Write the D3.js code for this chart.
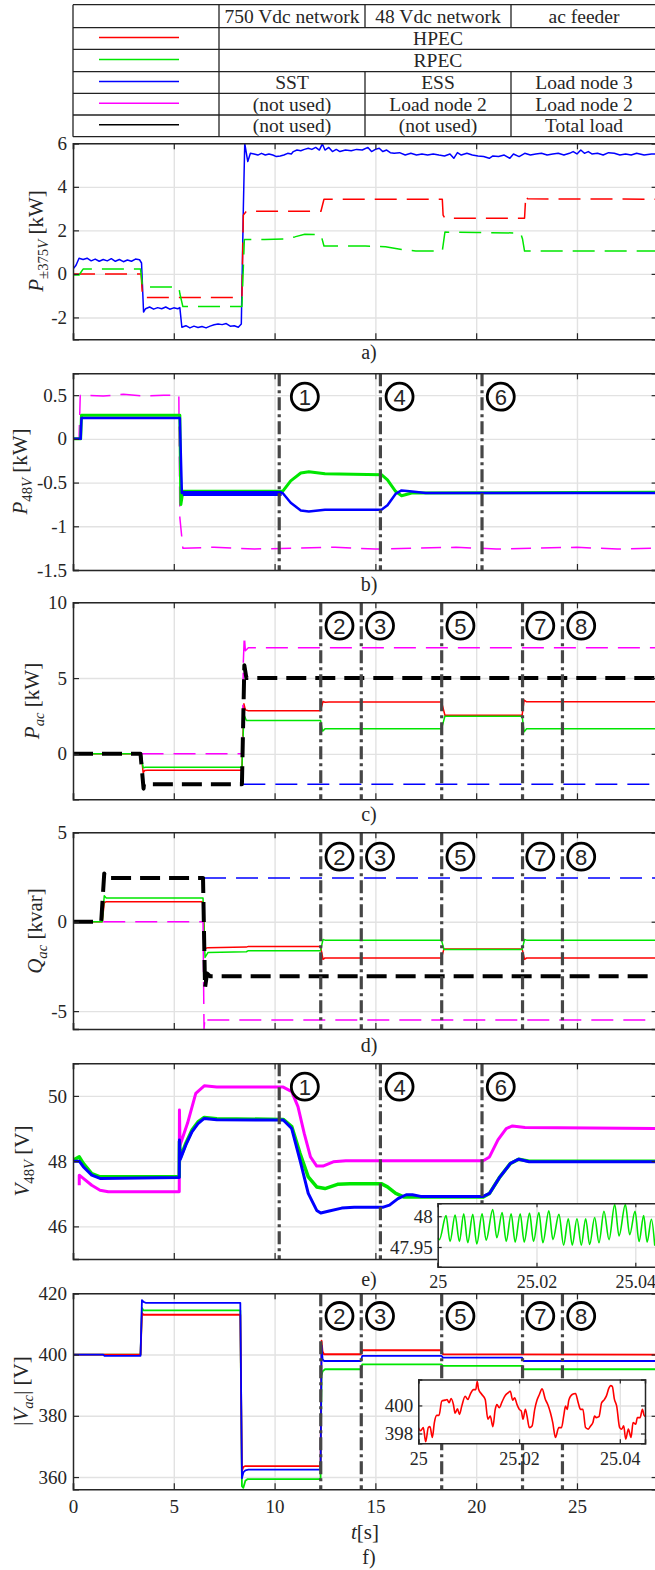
<!DOCTYPE html>
<html><head><meta charset="utf-8">
<script src="https://cdn.jsdelivr.net/npm/d3@7"></script>
<style>
body{margin:0;background:#fff}
svg{display:block}
text{font-family:"Liberation Serif","Times New Roman",serif;fill:#262626}
</style>
</head><body>
<svg id="chart" width="655" height="1570"></svg>
<script>
// ---------------- DATA ----------------
const xTicks = [0, 5, 10, 15, 20, 25];
const xTickLabels = ["0", "5", "10", "15", "20", "25"];

const tableHeader = ["", "750 Vdc network", "48 Vdc network", "ac feeder"];
const tableColors = ["red", "green", "blue", "mag", "black"];
const tableRows = [["HPEC"], ["RPEC"], ["SST", "ESS", "Load node 3"], ["(not used)", "Load node 2", "Load node 2"], ["(not used)", "(not used)", "Total load"]];

// events
const evDcT = [10.23, 15.25, 20.29];
const evDcLabels = ["1", "4", "6"];
const evDcLabelT = [11.5, 16.2, 21.22];
const evAcT = [12.29, 14.30, 18.29, 22.30, 24.28];
const evAcLabels = ["2", "3", "5", "7", "8"];
const evAcLabelT = [13.22, 15.23, 19.22, 23.18, 25.21];

// panel a: P±375V [kW]
const aTicks = [-2, 0, 2, 4, 6];
const aBlueT = [0,0.15,0.3,0.5,0.7,0.9,1.1,1.3,1.5,1.7,1.9,2.1,2.3,2.5,2.7,2.9,3.1,3.3,3.4,3.5,3.6,3.8,4.0,4.2,4.4,4.6,4.8,5.0,5.2,5.3,5.4,5.6,5.8,6.0,6.2,6.4,6.6,6.8,7.0,7.2,7.4,7.6,7.8,8.0,8.2,8.35,8.45,8.52,8.67,8.80,8.98,9.17,9.35,9.54,9.72,9.91,10.09,10.28,10.46,10.65,10.83,10.93,11.11,11.30,11.48,11.67,11.85,12.04,12.22,12.37,12.5,12.69,12.87,13.06,13.24,13.52,13.80,14.07,14.35,14.63,14.81,15.0,15.19,15.37,15.56,15.74,15.93,16.20,16.48,16.76,17.04,17.31,17.59,17.87,18.15,18.43,18.70,18.89,19.07,19.26,19.54,19.81,20.09,20.37,20.65,20.83,21.11,21.39,21.67,21.85,22.13,22.41,22.69,22.96,23.24,23.52,23.80,24.07,24.35,24.63,24.81,25.0,25.19,25.37,25.56,25.74,26.02,26.30,26.57,26.85,27.13,27.41,27.69,27.96,28.33,28.70,29];
const aBlueV = [0.22,0.4,0.72,0.66,0.72,0.6,0.68,0.58,0.66,0.6,0.7,0.58,0.66,0.56,0.64,0.58,0.68,0.65,0.5,-1.75,-1.6,-1.52,-1.62,-1.55,-1.6,-1.52,-1.62,-1.56,-1.6,-1.55,-2.45,-2.38,-2.48,-2.4,-2.46,-2.42,-2.48,-2.4,-2.34,-2.3,-2.33,-2.28,-2.4,-2.38,-2.45,-2.3,3.0,6.0,5.16,5.54,5.51,5.46,5.54,5.46,5.51,5.46,5.39,5.42,5.46,5.54,5.51,5.62,5.69,5.66,5.72,5.77,5.72,5.81,5.69,5.97,5.69,5.81,5.62,5.72,5.62,5.69,5.66,5.72,5.69,5.81,5.62,5.72,5.77,5.62,5.69,5.57,5.54,5.57,5.46,5.54,5.46,5.51,5.46,5.51,5.46,5.42,5.51,5.31,5.57,5.46,5.54,5.46,5.42,5.39,5.31,5.42,5.39,5.46,5.31,5.51,5.39,5.54,5.46,5.51,5.54,5.46,5.51,5.54,5.46,5.54,5.62,5.51,5.69,5.54,5.62,5.51,5.54,5.46,5.57,5.54,5.46,5.51,5.46,5.54,5.46,5.51,5.5];
const aRedT = [0,3.38,3.45,8.38,8.45,8.6,12.3,12.45,18.32,18.36,18.45,22.4,22.46,22.55,29];
const aRedV = [0,0,-1.08,-1.08,2.7,2.88,2.88,3.43,3.43,2.7,2.56,2.56,3.6,3.45,3.43];
const aGreenT = [0,0.3,0.5,3.35,3.45,5.25,5.3,5.45,8.38,8.5,9.5,10.5,11.0,11.5,12.3,12.45,14.5,15.5,16.3,17.0,18.32,18.45,20,22.2,22.3,22.4,29];
const aGreenV = [-0.05,-0.05,0.22,0.22,-0.6,-0.6,-0.9,-1.5,-1.5,1.58,1.58,1.6,1.7,1.82,1.8,1.28,1.28,1.25,1.12,1.05,1.05,1.92,1.9,1.88,1.6,1.05,1.05];

// panel b: P48V [kW]
const bTicks = [-1.5, -1, -0.5, 0, 0.5];
const bMagT = [0,0.3,0.36,1.5,2.5,3.5,4.5,5.25,5.3,5.45,7,9,11,13,15,17,19,21,23,25,27,29];
const bMagV = [0,0,0.5,0.49,0.51,0.49,0.5,0.5,-0.9,-1.25,-1.24,-1.26,-1.25,-1.24,-1.26,-1.25,-1.24,-1.26,-1.25,-1.24,-1.26,-1.25];
const bGreenT = [0,0.38,0.42,5.25,5.3,5.35,5.45,10.4,10.8,11.3,11.7,12.5,15.3,15.6,16.0,16.3,16.8,29];
const bGreenV = [0,0,0.27,0.27,0.27,-0.75,-0.6,-0.6,-0.48,-0.39,-0.375,-0.4,-0.41,-0.47,-0.6,-0.65,-0.62,-0.61];
const bBlueNoiseT = [5.45, 10.35];
const bBlueNoiseV = [-0.625, -0.625];
const bBlueT = [0,0.38,0.42,5.25,5.3,5.4,10.4,10.8,11.3,11.7,12.5,15.3,15.6,16.0,16.3,16.7,17.5,29];
const bBlueV = [0,0,0.24,0.24,0.24,-0.62,-0.62,-0.73,-0.82,-0.83,-0.81,-0.81,-0.76,-0.63,-0.59,-0.6,-0.62,-0.62];

// panel c: Pac [kW]
const cTicks = [0, 5, 10];
const cRedT = [0,3.38,3.48,3.55,3.7,8.38,8.48,8.55,8.7,12.28,12.4,12.5,12.7,18.28,18.45,22.28,22.38,22.5,29];
const cRedV = [0,0,-1.25,-1.1,-1.08,-1.08,3.3,2.9,2.85,2.85,3.45,3.4,3.42,3.42,2.55,2.55,3.55,3.43,3.43];
const cGreenT = [0,3.38,3.48,3.6,8.38,8.48,8.6,12.28,12.38,12.5,18.28,18.45,22.28,22.38,22.5,29];
const cGreenV = [0,0,-0.92,-0.88,-0.88,2.6,2.2,2.2,1.5,1.65,1.65,2.48,2.48,1.45,1.65,1.65];
const cMagT = [3.4,8.4,8.45,8.5,8.55,8.7,29];
const cMagV = [0,0,6.1,7.8,6.8,7.0,7.0];
const cBlueT = [8.45, 29];
const cBlueV = [-2.0, -2.0];
const cBlackT = [0,3.35,3.5,3.52,8.38,8.5,8.6,29];
const cBlackV = [0,0,-2.3,-2.0,-2.0,5.85,5.0,5.0];

// panel d: Qac [kvar]
const dTicks = [-5, 0, 5];
const dRedT = [0,1.45,1.55,1.65,6.45,6.55,6.7,8.6,8.7,12.28,12.4,12.5,18.28,18.4,22.28,22.4,22.5,29];
const dRedV = [0,0,1.05,1.12,1.12,-1.5,-1.45,-1.42,-1.38,-1.38,-2.1,-2.03,-2.03,-1.52,-1.52,-2.1,-2.03,-2.03];
const dGreenT = [0,1.45,1.55,1.65,6.45,6.55,6.7,8.6,8.7,12.28,12.4,12.5,18.28,18.4,22.28,22.4,22.5,29];
const dGreenV = [0,0,1.45,1.33,1.33,-2.0,-1.72,-1.68,-1.62,-1.62,-1.0,-1.03,-1.03,-1.55,-1.55,-1.0,-1.03,-1.03];
const dMagT = [1.5,6.45,6.5,6.55,6.65,29];
const dMagV = [0,0,-6.0,-5.3,-5.5,-5.5];
const dBlueT = [6.5, 29];
const dBlueV = [2.45, 2.45];
const dBlackT = [0,1.4,1.55,1.6,6.45,6.55,6.65,6.8,29];
const dBlackV = [0,0,2.7,2.45,2.45,-3.7,-2.9,-3.05,-3.05];

// panel e: V48V [V]
const eTicks = [46, 48, 50];
const eMagT = [0.31,0.31,0.51,0.93,1.34,1.75,5.27,5.28,5.31,5.68,6.09,6.51,7.13,8.78,10.43,10.85,11.16,11.47,11.78,12.09,12.4,12.91,13.53,20.35,20.66,21.08,21.49,21.8,22.42,29];
const eMagV = [47.26,47.57,47.47,47.26,47.11,47.06,47.06,49.57,48.49,49.16,50.08,50.31,50.27,50.27,50.27,50.13,49.67,48.85,48.13,47.85,47.85,47.98,48.01,48.01,48.13,48.65,49.0,49.08,49.03,49.0];
const eGreenT = [0,0.31,0.51,0.93,1.34,5.27,5.28,5.32,5.6,5.9,6.2,6.51,7.13,10.43,10.85,11.26,11.67,12.09,12.5,13.12,13.74,15.29,15.6,16.01,16.43,17.05,20.35,20.66,21.18,21.7,22.11,22.63,29];
const eGreenV = [48.03,48.13,47.93,47.62,47.52,47.52,48.6,48.1,48.55,48.95,49.2,49.34,49.3,49.28,49.06,48.24,47.52,47.21,47.16,47.29,47.31,47.31,47.21,47.01,46.9,46.9,46.9,47.01,47.52,47.93,48.06,48.0,48.0];
const eBlueT = [0,0.31,0.51,0.93,1.34,5.27,5.28,5.32,5.6,5.9,6.2,6.51,7.13,10.43,10.85,11.26,11.67,12.09,12.29,12.71,13.33,13.95,15.39,15.7,16.12,16.53,16.84,17.25,20.35,20.66,21.18,21.7,22.11,22.63,29];
const eBlueV = [48.0,48.0,47.83,47.57,47.47,47.5,48.65,48.05,48.5,48.9,49.15,49.31,49.27,49.26,49.0,48.03,47.01,46.49,46.41,46.47,46.56,46.59,46.59,46.65,46.85,46.97,46.97,46.92,46.92,47.01,47.52,47.93,48.06,47.98,47.98];

// inset e (green, zoom around t = 25 s), time offset in ms from 25 s
const insetETicksX = [25, 25.02, 25.04];
const insetETicksY = [47.95, 48];
const insetEMs = [0,0.34,1.69,2.50,3.52,4.39,5.27,6.08,7.10,7.91,8.99,9.80,11.15,11.97,13.05,13.86,14.87,15.68,16.70,17.51,18.59,19.40,20.48,21.29,22.51,23.32,24.54,25.49,26.43,27.24,28.19,29.07,29.95,30.76,31.77,32.65,33.66,34.68,35.83,36.71,37.99,38.87,39.95,40.76,41.69,42.39,43.26,43.94];
const insetEV = [47.965,47.962,48.001,47.959,48.002,47.959,48.004,47.957,48.003,47.955,48.004,47.961,48.011,47.965,48.006,47.959,48.004,47.958,48.004,47.958,48.005,47.959,48.006,47.957,48.009,47.962,48.003,47.953,47.996,47.953,47.996,47.953,47.996,47.954,47.998,47.957,48.008,47.962,48.019,47.968,48.019,47.970,48.008,47.959,48.001,47.958,47.995,47.952];

// panel f: |Vac| [V]
const fTicks = [360, 380, 400, 420];
const fRedT = [0,3.35,3.42,3.5,8.3,8.38,8.45,8.55,12.28,12.33,12.38,12.45,14.28,14.35,18.28,18.35,29];
const fRedV = [400,400,413.5,413.0,413.0,362,363.3,363.6,363.6,404.5,401,400.1,400.1,401.4,401.4,400.1,400.0];
const fGreenT = [0,3.35,3.42,3.5,8.3,8.38,8.45,8.55,8.65,12.28,12.33,12.38,12.5,14.28,14.35,18.28,18.35,22.28,22.35,29];
const fGreenV = [400,400,415.2,414.4,414.4,357,356.5,358.8,359.3,359.3,393,394.5,395.2,395.2,396.8,396.8,396.3,396.3,395.2,395.2];
const fBlueT = [0,1.5,1.55,3.35,3.42,3.5,3.6,8.3,8.38,8.45,8.55,8.7,12.28,12.33,12.38,12.45,12.6,14.28,14.35,18.28,18.35,22.28,22.35,29];
const fBlueV = [400,400,399.6,399.6,417.8,417.2,416.9,416.9,359.6,361.5,362.2,362.4,362.4,403,398.5,397.9,397.9,397.9,399.6,399.6,399.0,399.0,397.9,397.9];

// inset f (red, zoom around t = 25 s), time offset in ms from 25 s
const insetFTicksX = [25, 25.02, 25.04];
const insetFTicksY = [398, 400];
const insetFMs = [0,0.46,1.0,1.46,1.99,2.32,2.79,3.19,3.65,4.12,4.65,5.31,5.71,6.11,6.51,6.97,7.30,7.77,8.17,8.63,9.30,9.83,10.29,10.96,11.42,11.69,11.95,12.62,13.28,13.81,14.28,14.81,15.27,15.60,16.07,16.60,17.26,17.80,18.26,18.72,19.12,19.59,20.05,20.45,20.78,21.25,21.58,22.04,22.58,23.11,23.57,24.04,24.57,25.23,25.70,26.23,26.69,27.22,27.89,28.42,28.88,29.22,29.55,29.88,30.54,31.21,31.74,32.20,32.67,33.20,33.73,34.20,34.66,34.99,35.32,35.86,36.39,36.85,37.32,37.85,38.18,38.51,38.91,39.38,39.97,40.37,40.77,41.17,41.70,42.23,42.63,43.16,43.49,44.02,44.49,44.82,45.15];
const insetFV = [398.42,398.19,398.42,397.41,398.42,398.49,397.72,398.78,399.29,399.29,400.31,400.38,400.42,400.19,400.49,400.07,399.44,399.76,399.36,399.95,400.66,400.42,400.78,401.13,401.13,401.72,401.18,400.78,400.42,399.01,399.25,398.49,399.72,400.07,399.84,400.24,400.71,400.89,401.01,400.38,400.54,400.07,399.72,399.60,399.01,399.72,399.25,398.42,398.54,399.72,400.38,400.78,401.18,400.42,400.07,399.48,398.78,397.72,398.42,398.42,399.29,399.95,399.72,400.38,400.78,400.85,400.19,399.72,399.72,398.42,398.31,398.54,398.78,399.25,399.13,399.20,400.19,400.38,400.66,401.25,401.41,401.36,400.47,399.95,398.42,398.31,398.54,397.60,398.31,397.72,398.78,398.66,399.13,399.13,399.72,399.29,399.20];

// ---------------- DRAWING ----------------
const COL = {red:"#ff0000", green:"#00e600", blue:"#0000ff", mag:"#ff00ff", black:"#000000"};
const FS = 19;
const AX = "#262626";
const svg = d3.select("#chart");
const defs = svg.append("defs");
const XL = 73, XR = 657.6;
const x = d3.scaleLinear().domain([0, 29]).range([XL, XR]);

function zip(T, V) { const n = Math.min(T.length, V.length); const a = []; for (let i = 0; i < n; i++) a.push([T[i], V[i]]); return a; }

function styleAxis(s, showText, fs) {
  s.select(".domain").attr("stroke", AX).attr("stroke-width", 1.5);
  s.selectAll(".tick line").attr("stroke", AX).attr("stroke-width", 1.2);
  s.selectAll(".tick text").style("font-size", (fs || FS) + "px").attr("fill", AX)
    .style("font-family", '"Liberation Serif","Times New Roman",serif');
  if (!showText) s.selectAll(".tick text").remove();
}
function styleGrid(s) {
  s.select(".domain").remove();
  s.selectAll(".tick line").attr("stroke", "#e2e2e2").attr("stroke-width", 1.4);
  s.selectAll(".tick text").remove();
}

function yLabel(cx, cy, parts, fs) {
  const t = svg.append("text").attr("transform", `translate(${cx + 6.5},${cy}) rotate(-90)`)
    .attr("text-anchor", "middle").style("font-size", fs + "px").attr("fill", AX);
  let inSub = false;
  parts.forEach(p => {
    const ts = t.append("tspan").text(p.t);
    if (p.it) ts.style("font-style", "italic");
    if (p.sub && !inSub) { ts.attr("dy", 5).style("font-size", (fs * 0.7) + "px"); inSub = true; }
    else if (p.sub) { ts.style("font-size", (fs * 0.7) + "px"); }
    else if (!p.sub && inSub) { ts.attr("dy", -5); inSub = false; }
  });
}

function drawPanel(P) {
  const y = d3.scaleLinear().domain(P.dom).range([P.bottom, P.top]);
  const w = XR - XL, h = P.bottom - P.top;
  const g = svg.append("g");
  defs.append("clipPath").attr("id", "clip" + P.key).append("rect")
    .attr("x", XL).attr("y", P.top).attr("width", w).attr("height", h);
  // grid
  g.append("g").attr("transform", `translate(0,${P.bottom})`)
    .call(d3.axisBottom(x).tickValues(xTicks.slice(1)).tickSize(-h)).call(styleGrid);
  g.append("g").attr("transform", `translate(${XL},0)`)
    .call(d3.axisLeft(y).tickValues(P.ticks).tickSize(-w)).call(styleGrid);
  // series
  const lg = g.append("g").attr("clip-path", `url(#clip${P.key})`);
  const line = d3.line().x(d => x(d[0])).y(d => y(d[1]));
  P.series.forEach(s => {
    lg.append("path").datum(zip(s.T, s.V)).attr("d", line)
      .attr("fill", "none").attr("stroke", COL[s.c]).attr("stroke-width", s.w)
      .attr("stroke-dasharray", s.dash || null).attr("stroke-linejoin", "round");
  });
  // events
  if (P.ev) {
    lg.selectAll("line.ev").data(P.ev.T).join("line").attr("class", "ev")
      .attr("x1", d => x(d)).attr("x2", d => x(d)).attr("y1", P.top).attr("y2", P.bottom)
      .attr("stroke", "#464646").attr("stroke-width", 3.2).attr("stroke-dasharray", "13,4,3,4");
    const lab = g.selectAll("g.evl").data(P.ev.LT).join("g").attr("class", "evl")
      .attr("transform", d => `translate(${x(d)},${P.ev.y})`);
    lab.append("circle").attr("r", 13.5).attr("fill", "#fff").attr("stroke", "#000").attr("stroke-width", 2.8);
    lab.append("text").text((d, i) => P.ev.L[i]).attr("text-anchor", "middle").attr("dy", "0.36em")
      .style("font-family", '"Liberation Sans",Arial,sans-serif').style("font-size", "22px").attr("fill", "#000");
  }
  // frame and ticks
  g.append("g").attr("transform", `translate(0,${P.bottom})`)
    .call(d3.axisBottom(x).tickValues(xTicks).tickSize(-6).tickPadding(10).tickFormat((d, i) => xTickLabels[i]))
    .call(s => styleAxis(s, P.showX));
  g.append("g").attr("transform", `translate(0,${P.top})`)
    .call(d3.axisTop(x).tickValues(xTicks).tickSize(-6)).call(s => styleAxis(s, false));
  g.append("g").attr("transform", `translate(${XL},0)`)
    .call(d3.axisLeft(y).tickValues(P.ticks).tickSize(-6).tickPadding(6).tickFormat(d => String(d)))
    .call(s => styleAxis(s, true));
  g.append("g").attr("transform", `translate(${XR},0)`)
    .call(d3.axisRight(y).tickValues(P.ticks).tickSize(-6)).call(s => styleAxis(s, false));
  // panel tag
  svg.append("text").attr("x", 369).attr("y", P.tagY).attr("text-anchor", "middle")
    .style("font-size", "20px").text(P.tag);
  return y;
}

function drawInset(I) {
  const xs = d3.scaleLinear().domain(I.xdom).range([I.x0, I.x1]);
  const ys = d3.scaleLinear().domain(I.ydom).range([I.y1, I.y0]);
  const w = I.x1 - I.x0, h = I.y1 - I.y0;
  const g = svg.append("g");
  g.append("rect").attr("x", I.x0).attr("y", I.y0).attr("width", w).attr("height", h).attr("fill", "#fff");
  defs.append("clipPath").attr("id", "clip" + I.key).append("rect")
    .attr("x", I.x0).attr("y", I.y0).attr("width", w).attr("height", h);
  g.append("g").attr("transform", `translate(0,${I.y1})`)
    .call(d3.axisBottom(xs).tickValues(I.tx).tickSize(-h)).call(styleGrid);
  g.append("g").attr("transform", `translate(${I.x0},0)`)
    .call(d3.axisLeft(ys).tickValues(I.ty).tickSize(-w)).call(styleGrid);
  const pts = I.ms.slice(0, I.v.length).map((m, i) => [25 + m / 1000, I.v[i]]);
  g.append("g").attr("clip-path", `url(#clip${I.key})`).append("path").datum(pts)
    .attr("d", d3.line().x(d => xs(d[0])).y(d => ys(d[1])).curve(d3.curveMonotoneX))
    .attr("fill", "none").attr("stroke", COL[I.c]).attr("stroke-width", 1.6);
  g.append("g").attr("transform", `translate(0,${I.y1})`)
    .call(d3.axisBottom(xs).tickValues(I.tx).tickSize(-4).tickPadding(9).tickFormat(d => d === 25 ? "25" : d3.format(".2f")(d)))
    .call(s => styleAxis(s, true, 18));
  g.append("g").attr("transform", `translate(0,${I.y0})`)
    .call(d3.axisTop(xs).tickValues(I.tx).tickSize(-4)).call(s => styleAxis(s, false));
  g.append("g").attr("transform", `translate(${I.x0},0)`)
    .call(d3.axisLeft(ys).tickValues(I.ty).tickSize(-4).tickPadding(5).tickFormat(d => String(d)))
    .call(s => styleAxis(s, true, 19));
  g.append("g").attr("transform", `translate(${I.x1},0)`)
    .call(d3.axisRight(ys).tickValues(I.ty).tickSize(-4)).call(s => styleAxis(s, false));
}

const DASH = "22,10";
// Panel a
drawPanel({key:"a", top:143.3, bottom:339.2, dom:[-3,6], ticks:aTicks, tag:"a)", tagY:359,
  series:[{T:aBlueT,V:aBlueV,c:"blue",w:1.5},{T:aRedT,V:aRedV,c:"red",w:1.5,dash:DASH},{T:aGreenT,V:aGreenV,c:"green",w:1.5,dash:DASH}]});
yLabel(36, 241, [{t:"P",it:true},{t:"±375",sub:true},{t:"V",sub:true,it:true},{t:" [kW]"}], 21);

// Panel b
drawPanel({key:"b", top:373.3, bottom:570, dom:[-1.5,0.75], ticks:bTicks, tag:"b)", tagY:591,
  series:[{T:bMagT,V:bMagV,c:"mag",w:1.5,dash:"20,10"},{T:bGreenT,V:bGreenV,c:"green",w:3},{T:bBlueNoiseT,V:bBlueNoiseV,c:"blue",w:5},{T:bBlueT,V:bBlueV,c:"blue",w:2.5}],
  ev:{T:evDcT,LT:evDcLabelT,L:evDcLabels,y:396.7}});
yLabel(20, 471.5, [{t:"P",it:true},{t:"48",sub:true},{t:"V",sub:true,it:true},{t:" [kW]"}], 21);

// Panel c
drawPanel({key:"c", top:602.3, bottom:799.3, dom:[-3,10], ticks:cTicks, tag:"c)", tagY:821,
  series:[{T:cRedT,V:cRedV,c:"red",w:1.5},{T:cGreenT,V:cGreenV,c:"green",w:1.5},{T:cMagT,V:cMagV,c:"mag",w:1.5,dash:DASH},{T:cBlueT,V:cBlueV,c:"blue",w:1.5,dash:DASH},{T:cBlackT,V:cBlackV,c:"black",w:4,dash:"20,9"}],
  ev:{T:evAcT,LT:evAcLabelT,L:evAcLabels,y:625.7}});
yLabel(32, 701, [{t:"P",it:true},{t:"ac",sub:true,it:true},{t:" [kW]"}], 21);

// Panel d
drawPanel({key:"d", top:832.3, bottom:1029, dom:[-6,5], ticks:dTicks, tag:"d)", tagY:1052,
  series:[{T:dRedT,V:dRedV,c:"red",w:1.5},{T:dGreenT,V:dGreenV,c:"green",w:1.5},{T:dMagT,V:dMagV,c:"mag",w:1.5,dash:DASH},{T:dBlueT,V:dBlueV,c:"blue",w:1.5,dash:DASH},{T:dBlackT,V:dBlackV,c:"black",w:4,dash:"20,9"}],
  ev:{T:evAcT,LT:evAcLabelT,L:evAcLabels,y:856.7}});
yLabel(35, 931, [{t:"Q",it:true},{t:"ac",sub:true,it:true},{t:" [kvar]"}], 21);

// Panel e
drawPanel({key:"e", top:1063.3, bottom:1259, dom:[45,51], ticks:eTicks, tag:"e)", tagY:1286,
  series:[{T:eMagT,V:eMagV,c:"mag",w:3},{T:eGreenT,V:eGreenV,c:"green",w:3.5},{T:eBlueT,V:eBlueV,c:"blue",w:3}],
  ev:{T:evDcT,LT:evDcLabelT,L:evDcLabels,y:1086.7}});
yLabel(22, 1161, [{t:"V",it:true},{t:"48",sub:true},{t:"V",sub:true,it:true},{t:" [V]"}], 21);
drawInset({key:"ie", x0:437.7, x1:660, y0:1203.3, y1:1266.7, xdom:[25,25.045], ydom:[47.918,48.021],
  tx:insetETicksX, ty:insetETicksY, ms:insetEMs, v:insetEV, c:"green"});

// Panel f
drawPanel({key:"f", top:1293.3, bottom:1489.3, dom:[356,420], ticks:fTicks, tag:"f)", tagY:1564, showX:true,
  series:[{T:fGreenT,V:fGreenV,c:"green",w:1.8},{T:fRedT,V:fRedV,c:"red",w:1.8},{T:fBlueT,V:fBlueV,c:"blue",w:1.8}],
  ev:{T:evAcT,LT:evAcLabelT,L:evAcLabels,y:1316}});
yLabel(21, 1391, [{t:"|"},{t:"V",it:true},{t:"ac",sub:true,it:true},{t:"| [V]"}], 21);
drawInset({key:"if", x0:418.3, x1:645, y0:1379.5, y1:1443.3, xdom:[25,25.045], ydom:[397.3,401.85],
  tx:insetFTicksX, ty:insetFTicksY, ms:insetFMs, v:insetFV, c:"red"});

// x axis title
const xt = svg.append("text").attr("x", 365).attr("y", 1539).attr("text-anchor", "middle").style("font-size", "21px");
xt.append("tspan").text("t").style("font-style", "italic");
xt.append("tspan").text("[s]");

// ---------------- LEGEND TABLE ----------------
const rowY = [4.7, 27.7, 49.3, 71.7, 93.3, 115, 136.7];
const colX = [73, 219, 365, 511, 657];
const TFS = 19.5;
const tg = svg.append("g");
tg.append("rect").attr("x", colX[0]).attr("y", rowY[0]).attr("width", colX[4] - colX[0]).attr("height", rowY[6] - rowY[0]).attr("fill", "#fff");
rowY.forEach(yv => tg.append("line").attr("x1", colX[0]).attr("x2", colX[4]).attr("y1", yv).attr("y2", yv).attr("stroke", "#222").attr("stroke-width", 1.3));
[0, 1, 4].forEach(ci => tg.append("line").attr("x1", colX[ci]).attr("x2", colX[ci]).attr("y1", rowY[0]).attr("y2", rowY[6]).attr("stroke", "#222").attr("stroke-width", 1.3));
[2, 3].forEach(ci => {
  [[0, 1], [3, 6]].forEach(([r0, r1]) => tg.append("line").attr("x1", colX[ci]).attr("x2", colX[ci]).attr("y1", rowY[r0]).attr("y2", rowY[r1]).attr("stroke", "#222").attr("stroke-width", 1.3));
});
const cellCx = [146, 292, 438, 584];
tableHeader.forEach((t, i) => {
  if (t) tg.append("text").attr("x", cellCx[i]).attr("y", (rowY[0] + rowY[1]) / 2 + 6.5).attr("text-anchor", "middle").style("font-size", TFS + "px").attr("fill", "#000").text(t);
});
tableRows.forEach((row, r) => {
  const cy = (rowY[r + 1] + rowY[r + 2]) / 2;
  tg.append("line").attr("x1", 99).attr("x2", 179).attr("y1", cy - 1).attr("y2", cy - 1).attr("stroke", COL[tableColors[r]]).attr("stroke-width", 1.5);
  if (row.length === 1) {
    tg.append("text").attr("x", (colX[1] + colX[4]) / 2).attr("y", cy + 6.5).attr("text-anchor", "middle").style("font-size", TFS + "px").attr("fill", "#000").text(row[0]);
  } else {
    row.forEach((t, i) => tg.append("text").attr("x", cellCx[i + 1]).attr("y", cy + 6.5).attr("text-anchor", "middle").style("font-size", TFS + "px").attr("fill", "#000").text(t));
  }
});
</script>
</body></html>
